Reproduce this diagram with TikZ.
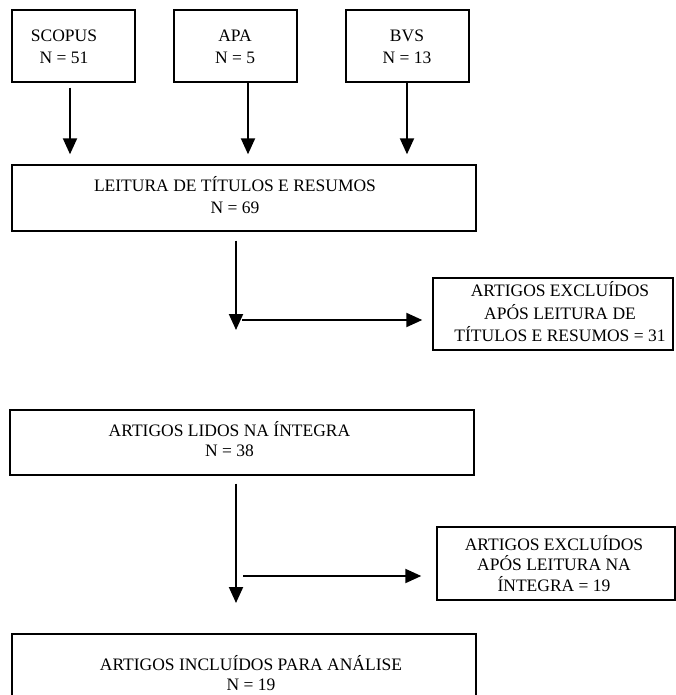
\documentclass[tikz,border=0pt]{standalone}
\usepackage{fontspec}
\setmainfont{Liberation Serif}
\usetikzlibrary{arrows.meta}
\begin{document}
\begin{tikzpicture}[x=1pt,y=-1pt,
  boxnode/.style={draw=black,line width=1.4pt,inner sep=0pt},
  txt/.style={anchor=base,inner sep=0pt,font=\fontsize{17.5pt}{21pt}\selectfont},
  arr/.style={line width=2pt,-{Triangle[length=16pt,width=14pt]}}]
\useasboundingbox[fill=white] (0,0) rectangle (676,695);
% boxes
\node[boxnode,minimum width=123pt,minimum height=72pt] (scopus) at (73.5,46) {};
\node[boxnode,minimum width=123pt,minimum height=72pt] (apa) at (235.5,46) {};
\node[boxnode,minimum width=123pt,minimum height=72pt] (bvs) at (407.5,46) {};
\node[boxnode,minimum width=464pt,minimum height=66pt] (leitura) at (244,198) {};
\node[boxnode,minimum width=240pt,minimum height=72pt] (excl1) at (553,314) {};
\node[boxnode,minimum width=464pt,minimum height=65pt] (lidos) at (242,442.5) {};
\node[boxnode,minimum width=238pt,minimum height=73pt] (excl2) at (556,563.5) {};
\node[boxnode,minimum width=464pt,minimum height=80pt] (incl) at (244,674) {};
% texts
\node[txt] (scopus1) at (64,41.7) {SCOPUS};
\node[txt] (scopus2) at (64,63.3) {N = 51};
\node[txt] (apa1) at (235,41.7) {APA};
\node[txt] (apa2) at (235,63.3) {N = 5};
\node[txt] (bvs1) at (407,41.7) {BVS};
\node[txt] (bvs2) at (407,63.3) {N = 13};
\node[txt] (leitura1) at (235,191.7) {LEITURA DE TÍTULOS E RESUMOS};
\node[txt] (leitura2) at (235,213.3) {N = 69};
\node[txt] (excl1a) at (560,296) {ARTIGOS EXCLUÍDOS};
\node[txt] (excl1b) at (560,319) {APÓS LEITURA DE};
\node[txt] (excl1c) at (560,341.5) {TÍTULOS E RESUMOS = 31};
\node[txt] (lidos1) at (229.5,436) {ARTIGOS LIDOS NA ÍNTEGRA};
\node[txt] (lidos2) at (229.5,456.7) {N = 38};
\node[txt] (excl2a) at (554,550) {ARTIGOS EXCLUÍDOS};
\node[txt] (excl2b) at (554,570.7) {APÓS LEITURA NA};
\node[txt] (excl2c) at (554,591.7) {ÍNTEGRA = 19};
\node[txt] (incl1) at (251,670) {ARTIGOS INCLUÍDOS PARA ANÁLISE};
\node[txt] (incl2) at (251,690) {N = 19};
% connectors
\draw[arr,shorten <=5pt,shorten >=10pt] (scopus.south -| 70,0) -- (leitura.north -| 70,0);
\draw[arr,shorten >=10pt] (apa.south -| 248,0) -- (leitura.north -| 248,0);
\draw[arr,shorten >=10pt] (bvs.south -| 407,0) -- (leitura.north -| 407,0);
\coordinate (m1) at (236,330);
\coordinate (b1) at (242,320);
\draw[arr,shorten <=9pt] (leitura.south -| m1) -- (m1);
\draw[arr,shorten >=10pt] (b1) -- (excl1.west |- b1);
\coordinate (m2) at (236,603);
\coordinate (b2) at (243,576);
\draw[arr,shorten <=8pt] (lidos.south -| m2) -- (m2);
\draw[arr,shorten >=15pt] (b2) -- (excl2.west |- b2);
\end{tikzpicture}
\end{document}
